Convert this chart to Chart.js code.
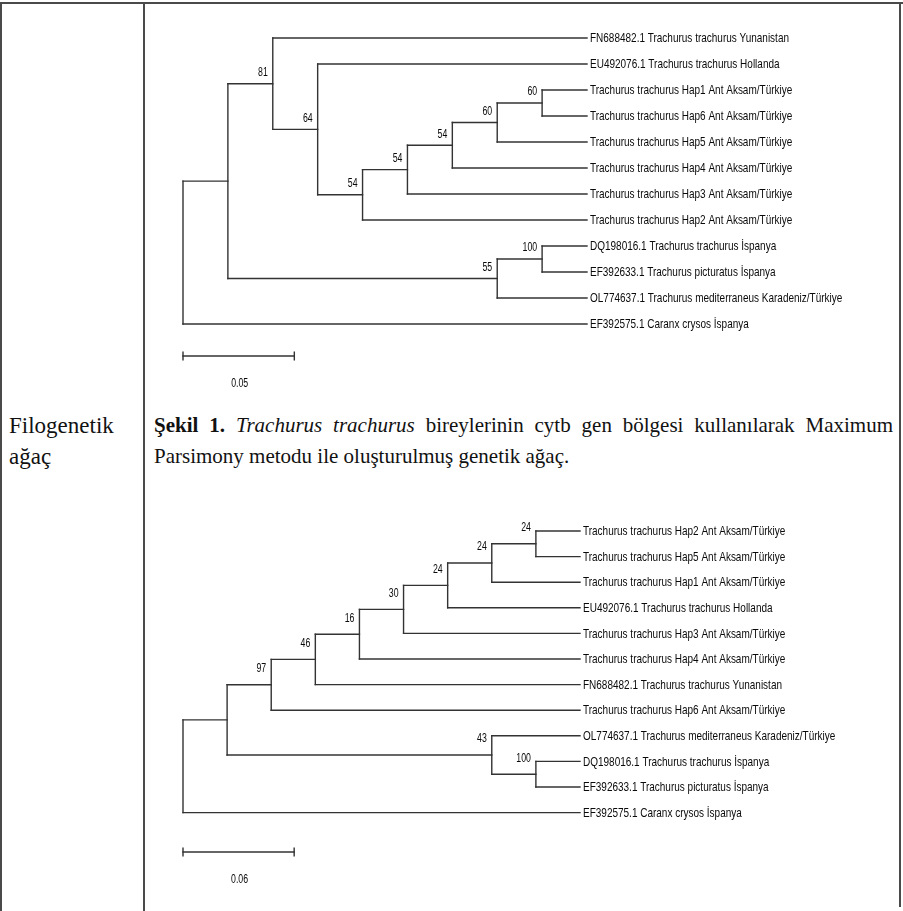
<!DOCTYPE html>
<html><head><meta charset="utf-8">
<script src="https://cdn.jsdelivr.net/npm/chart.js@4.4.1/dist/chart.umd.min.js"></script>
<style>
html,body{margin:0;padding:0;background:#fff;}
body{width:903px;height:911px;position:relative;overflow:hidden;}
.ln{position:absolute;background:#4a4a4a;}
canvas{position:absolute;}
#cap{position:absolute;left:154px;top:410px;width:739px;font:21px "Liberation Serif","Times New Roman",serif;line-height:31px;text-align:justify;color:#111;}
#side{position:absolute;left:9px;top:410px;font:23px "Liberation Serif","Times New Roman",serif;line-height:31px;color:#111;}
</style></head><body>
<div class="ln" style="left:0;top:2px;width:903px;height:2px"></div>
<div class="ln" style="left:0;top:2px;width:2px;height:909px"></div>
<div class="ln" style="left:143px;top:2px;width:2px;height:909px"></div>
<div class="ln" style="left:899px;top:2px;width:2px;height:905px"></div>
<div id="side">Filogenetik<br>ağaç</div>
<div id="cap"><b>Şekil 1.</b> <i>Trachurus trachurus</i> bireylerinin cytb gen bölgesi kullanılarak Maximum Parsimony metodu ile oluşturulmuş genetik ağaç.</div>
<canvas id="c1" width="745" height="400" style="left:150px;top:10px"></canvas>
<canvas id="c2" width="745" height="405" style="left:150px;top:500px"></canvas>
<script>
// ---------- data: top tree ----------
const topLeaves = [
  "FN688482.1 Trachurus trachurus Yunanistan",
  "EU492076.1 Trachurus trachurus Hollanda",
  "Trachurus trachurus Hap1 Ant Aksam/Türkiye",
  "Trachurus trachurus Hap6 Ant Aksam/Türkiye",
  "Trachurus trachurus Hap5 Ant Aksam/Türkiye",
  "Trachurus trachurus Hap4 Ant Aksam/Türkiye",
  "Trachurus trachurus Hap3 Ant Aksam/Türkiye",
  "Trachurus trachurus Hap2 Ant Aksam/Türkiye",
  "DQ198016.1 Trachurus trachurus İspanya",
  "EF392633.1 Trachurus picturatus İspanya",
  "OL774637.1 Trachurus mediterraneus Karadeniz/Türkiye",
  "EF392575.1 Caranx crysos İspanya"
];
const topNodeIds      = ["root","a","n81","n64","n54a","n54b","n54c","n60a","n60b","n55","n100"];
const topNodeDepth    = [0, 1, 2, 3, 4, 5, 6, 7, 8, 7, 8];
const topNodeSupport  = [null, null, 81, 64, 54, 54, 54, 60, 60, 55, 100];
const topNodeChildren = [["a","L11"],["n81","n55"],["L0","n64"],["L1","n54a"],["n54b","L7"],["n54c","L6"],["n60a","L5"],["n60b","L4"],["L2","L3"],["n100","L10"],["L8","L9"]];
const topScaleBar = [0, 2.48];
const topScaleBarY = 12.23;
const topScaleLabel = "0.05";

// ---------- data: bottom tree ----------
const botLeaves = [
  "Trachurus trachurus Hap2 Ant Aksam/Türkiye",
  "Trachurus trachurus Hap5 Ant Aksam/Türkiye",
  "Trachurus trachurus Hap1 Ant Aksam/Türkiye",
  "EU492076.1 Trachurus trachurus Hollanda",
  "Trachurus trachurus Hap3 Ant Aksam/Türkiye",
  "Trachurus trachurus Hap4 Ant Aksam/Türkiye",
  "FN688482.1 Trachurus trachurus Yunanistan",
  "Trachurus trachurus Hap6 Ant Aksam/Türkiye",
  "OL774637.1 Trachurus mediterraneus Karadeniz/Türkiye",
  "DQ198016.1 Trachurus trachurus İspanya",
  "EF392633.1 Trachurus picturatus İspanya",
  "EF392575.1 Caranx crysos İspanya"
];
const botNodeIds      = ["root","a","n97","n46","n16","n30","n24c","n24b","n24a","n43","n100"];
const botNodeDepth    = [0, 1, 2, 3, 4, 5, 6, 7, 8, 7, 8];
const botNodeSupport  = [null, null, 97, 46, 16, 30, 24, 24, 24, 43, 100];
const botNodeChildren = [["a","L11"],["n97","n43"],["n46","L7"],["n16","L6"],["n30","L5"],["n24c","L4"],["n24b","L3"],["n24a","L2"],["L0","L1"],["L8","n100"],["L9","L10"]];
const botScaleBar = [0, 2.52];
const botScaleBarY = 12.54;
const botScaleLabel = "0.06";

const leafDepth = 9;
const lineColor = "#333333";

function layout(leaves, ids, depth, children) {
  const pos = {};
  leaves.forEach((l, i) => pos["L" + i] = {x: leafDepth, y: i});
  function get(id) {
    if (pos[id]) return pos[id];
    const k = ids.indexOf(id);
    const ch = children[k].map(get);
    pos[id] = {x: depth[k], y: ch.reduce((s, c) => s + c.y, 0) / ch.length};
    return pos[id];
  }
  ids.forEach(get);
  return pos;
}
function seg(a, b) {
  return {data: [a, b], showLine: true, borderColor: lineColor, borderWidth: 1.4,
          pointRadius: 0, pointHoverRadius: 0, clip: false, borderCapStyle: "square"};
}
function buildDatasets(pos, ids, children, bar, barY) {
  const ds = [];
  ids.forEach((id, k) => {
    const p = pos[id];
    const ch = children[k].map(c => pos[c]);
    const ys = ch.map(c => c.y);
    ds.push(seg({x: p.x, y: Math.min(...ys)}, {x: p.x, y: Math.max(...ys)}));
    ch.forEach(c => ds.push(seg({x: p.x, y: c.y}, {x: c.x, y: c.y})));
  });
  ds.push(seg({x: bar[0], y: barY}, {x: bar[1], y: barY}));
  ds.push(seg({x: bar[0], y: barY - 0.15}, {x: bar[0], y: barY + 0.15}));
  ds.push(seg({x: bar[1], y: barY - 0.15}, {x: bar[1], y: barY + 0.15}));
  return ds;
}
function drawText(ctx, text, x, y, font, sx, align) {
  ctx.save();
  ctx.font = font;
  ctx.fillStyle = "#0a0a0a";
  ctx.textBaseline = "middle";
  ctx.textAlign = align;
  ctx.translate(x, y);
  ctx.scale(sx, 1);
  ctx.fillText(text, 0, 0);
  ctx.restore();
}
function makeTree(canvasId, leaves, ids, depth, support, children, bar, barY, barLabel, padding, supportOffset) {
  const pos = layout(leaves, ids, depth, children);
  const labelPlugin = {
    id: "treeLabels",
    afterDatasetsDraw(chart) {
      const ctx = chart.ctx, xs = chart.scales.x, ys = chart.scales.y;
      leaves.forEach((t, i) => {
        drawText(ctx, t, xs.getPixelForValue(leafDepth) + 3, ys.getPixelForValue(i) + 0.5,
                 '13.5px "Liberation Sans", Arial, sans-serif', 0.74, "left");
      });
      ids.forEach((id, k) => {
        if (support[k] == null) return;
        const p = pos[id];
        drawText(ctx, String(support[k]), xs.getPixelForValue(p.x) - 5, ys.getPixelForValue(p.y) - supportOffset,
                 '12.5px "Liberation Sans", Arial, sans-serif', 0.7, "right");
      });
      drawText(ctx, barLabel, xs.getPixelForValue((bar[0] + bar[1]) / 2) + 1, ys.getPixelForValue(barY + 1.07),
               '12.5px "Liberation Sans", Arial, sans-serif', 0.7, "center");
    }
  };
  return new Chart(document.getElementById(canvasId), {
    type: "scatter",
    data: {datasets: buildDatasets(pos, ids, children, bar, barY)},
    options: {
      responsive: false,
      animation: false,
      layout: {padding: padding},
      scales: {
        x: {type: "linear", min: 0, max: leafDepth, display: false},
        y: {type: "linear", min: 0, max: 14, reverse: true, display: false}
      },
      plugins: {legend: {display: false}, tooltip: {enabled: false}},
      events: []
    },
    plugins: [labelPlugin]
  });
}
makeTree("c1", topLeaves, topNodeIds, topNodeDepth, topNodeSupport, topNodeChildren,
         topScaleBar, topScaleBarY, topScaleLabel, {left: 33, right: 308, top: 28, bottom: 8}, 11);
makeTree("c2", botLeaves, botNodeIds, botNodeDepth, botNodeSupport, botNodeChildren,
         botScaleBar, botScaleBarY, botScaleLabel, {left: 33, right: 315, top: 31, bottom: 15.6}, 16);
</script>
</body></html>
